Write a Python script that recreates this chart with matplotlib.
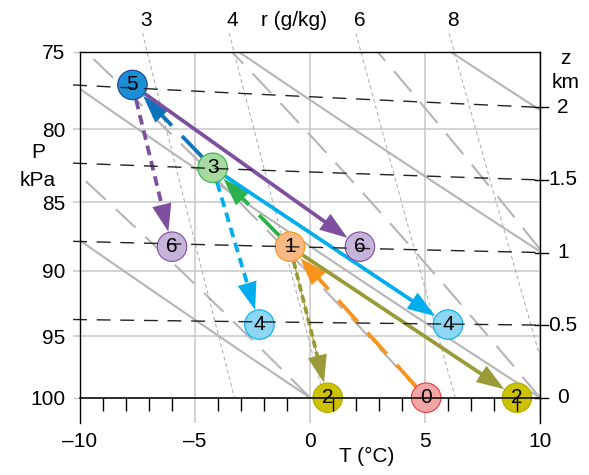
import numpy as np
import matplotlib
matplotlib.use("Agg")
import matplotlib.pyplot as plt
from matplotlib.patches import FancyArrowPatch
from matplotlib.transforms import blended_transform_factory
from matplotlib.ticker import NullLocator

plt.rcParams['font.family'] = ['Liberation Sans', 'DejaVu Sans']

# ---------------- data ----------------
x_ticks = [-10, -5, 0, 5, 10]
y_ticks = [75, 80, 85, 90, 95, 100]
theta_dry_C = [0, 10, 20, 30]          # dry adiabats (potential temperature, degC)
theta_w_C = [0, 5, 10, 15]             # moist adiabats (T at 100 kPa, degC)
mix_r = [3, 4, 6, 8]                   # saturation mixing ratio lines, g/kg
mix_labels = ['3', '4', '6', '8']
z_km = [0, 0.5, 1, 1.5, 2]             # height lines
z_labels = ['0', '0.5', '1', '1.5', '2']

pt_labels = ['0', '1', '2', '2', '3', '4', '4', '5', '6', '6']
pt_T = [5.05, -0.87, 0.77, 9.0, -4.23, -2.2, 6.0, -7.72, -6.0, 2.17]
pt_P = [100.0, 88.2, 100.0, 100.0, 82.6, 94.1, 94.1, 77.1, 88.2, 88.2]
pt_face = ['#f4a5a5', '#f9b984', '#ccc200', '#ccc200', '#a7d9a1', '#8dd6f4',
           '#8dd6f4', '#1b8fd6', '#c6b4da', '#c6b4da']
pt_edge = ['#e63a3f', '#f7941d', '#b3aa00', '#b3aa00', '#2db34a', '#00aeef',
           '#00aeef', '#1d3f8f', '#7d4f9e', '#7d4f9e']

arr_from = [0, 1, 1, 1, 4, 4, 4, 7, 7]
arr_to = [1, 2, 3, 4, 5, 6, 7, 8, 9]
arr_color = ['#f7941d', '#9a9a38', '#9a9a38', '#2bb24c', '#00aeef', '#00aeef',
             '#0d72ba', '#7d4f9e', '#7d4f9e']
arr_style = ['long', 'dot', 'solid', 'long', 'short', 'solid', 'long', 'short', 'solid']

# ---------------- constants ----------------
Rd, Cp, Lv, eps, g, K0 = 287.04, 1005.7, 2.501e6, 0.622, 9.81, 273.15
kappa = Rd / Cp


def es_kpa(Tc):
    return 0.6112 * np.exp(17.67 * Tc / (Tc + 243.5))


def dTdP(P, T):
    es = es_kpa(T - K0)
    rs = eps * es / (P - es)
    return (Rd * T + Lv * rs) / (P * (Cp + Lv ** 2 * rs * eps / (Rd * T ** 2)))


def moist_line(T0c, P):
    T = np.empty_like(P)
    T[0] = T0c + K0
    for i in range(len(P) - 1):
        h = P[i + 1] - P[i]
        p, t = P[i], T[i]
        k1 = dTdP(p, t)
        k2 = dTdP(p + h / 2, t + h / 2 * k1)
        k3 = dTdP(p + h / 2, t + h / 2 * k2)
        k4 = dTdP(p + h, t + h * k3)
        T[i + 1] = t + h / 6 * (k1 + 2 * k2 + 2 * k3 + k4)
    return T - K0


def dew_T(r, P):
    e = (r / 1000.0) * P / (eps + r / 1000.0)
    a = np.log(e / 0.6112)
    return 243.5 * a / (17.67 - a)


def z_pressure(z, Tc):
    return 100.0 * np.exp(-g * z * 1000.0 / (Rd * (np.asarray(Tc) + K0)))


# ---------------- figure ----------------
W, H = 589, 475
fig = plt.figure(figsize=(W / 100, H / 100), dpi=100)
ax = fig.add_axes([80 / W, 52.3 / H, 460 / W, 371 / H])
ax.set_yscale('log')
ax.set_xlim(-10, 10)
ax.set_ylim(102.1, 75)

FS = 15
GRID = '#c8c8c8'
LINE = '#b5b5b5'

ax.set_xticks(x_ticks)
ax.set_xticklabels([f"{v}".replace('-', '\u2013') for v in x_ticks], fontsize=FS)
ax.set_yticks(y_ticks)
ax.set_yticklabels([str(v) for v in y_ticks], fontsize=FS)
ax.yaxis.set_minor_locator(NullLocator())
ax.xaxis.set_minor_locator(NullLocator())
ax.tick_params(axis='x', length=0, pad=7)
ax.tick_params(axis='y', length=5.2, width=1.1, color=GRID, pad=5.5)
for t, v in zip(ax.yaxis.get_major_ticks(), y_ticks):
    if v in (75, 100):
        t.tick1line.set_color('black')
        t.tick1line.set_markeredgewidth(1.0)
ax.grid(True, color=GRID, lw=1.1, zorder=0)
ax.set_axisbelow(True)
ax.spines['bottom'].set_visible(False)
for s in ('left', 'right', 'top'):
    ax.spines[s].set_linewidth(1.0)
    ax.spines[s].set_zorder(6)

# dry adiabats
P_line = np.linspace(75, 100, 200)
for th in theta_dry_C:
    T = (th + K0) * (P_line / 100.0) ** kappa - K0
    ax.plot(T, P_line, color=LINE, lw=1.5, zorder=1, solid_capstyle='butt')

# moist adiabats
P_m = np.linspace(100, 75, 501)
for tw in theta_w_C:
    T = moist_line(tw, P_m)
    ax.plot(T, P_m, color=LINE, lw=1.5, zorder=1, dashes=(13, 6.5))

# mixing ratio lines
P_r = np.linspace(73.85, 100, 200)
xy_tr = blended_transform_factory(ax.transData, fig.transFigure)
for r, lab in zip(mix_r, mix_labels):
    T = dew_T(r, P_r)
    m = T <= 10
    ax.plot(T[m], P_r[m], color='#aaaaaa', lw=0.7, dashes=(4, 3), zorder=1,
            clip_on=False)
    ax.text(T[0] + 0.15, 1 - 20 / H, lab, transform=xy_tr, ha='center',
            va='center', fontsize=FS)

# height lines
T_h = np.linspace(-10.3, 10, 100)
yz_tr = blended_transform_factory(ax.transAxes, ax.transData)
for z, lab in zip(z_km, z_labels):
    Pz = z_pressure(z, T_h)
    if z == 0:
        ax.plot([-10, 10], [100, 100], color='black', lw=1.1, zorder=5,
                clip_on=False)
    else:
        ax.plot(T_h, Pz, color='#222222', lw=1.0, dashes=(10, 7), zorder=5,
                clip_on=False)
    pr = z_pressure(z, 10.0)
    ax.plot([0.9891, 1.0174], [pr, pr], color='black', lw=1.0,
            transform=yz_tr, clip_on=False, zorder=6)
    ax.text(1.05, pr, lab, transform=yz_tr, ha='center', va='center',
            fontsize=FS)

# small ticks hanging from the 100 kPa line
minor_T = [v for v in range(-9, 10) if v % 5 != 0]
ax.vlines(minor_T, 100, 101.1, color='black', lw=1.0, zorder=5)

# arrows: dashed/solid body + solid filled head
dash_map = {'long': (0, (7.7, 3.9)), 'short': (0, (2.6, 1.6)),
            'dot': (0, (2.0, 1.1)), 'solid': '-'}
R_PT = 11.0
HEAD_L, HEAD_W = 20, 7
for i, j, c, st in zip(arr_from, arr_to, arr_color, arr_style):
    p0 = (pt_T[i], pt_P[i])
    p1 = (pt_T[j], pt_P[j])
    if st == 'dot':
        ax.add_patch(FancyArrowPatch(p0, p1, arrowstyle='-', mutation_scale=1,
                                     color=c, lw=0.8, shrinkA=R_PT,
                                     shrinkB=R_PT + 10, zorder=3))
    ax.add_patch(FancyArrowPatch(p0, p1, arrowstyle='-', mutation_scale=1,
                                 color=c, lw=2.7, linestyle=dash_map[st],
                                 shrinkA=R_PT, shrinkB=R_PT + HEAD_L - 4,
                                 zorder=3, capstyle='butt'))
    ax.add_patch(FancyArrowPatch(p0, p1,
                                 arrowstyle=f'-|>,head_length={HEAD_L},head_width={HEAD_W}',
                                 mutation_scale=1, color=c, lw=0,
                                 shrinkA=R_PT, shrinkB=R_PT, zorder=3))

# points
ax.scatter(pt_T, pt_P, s=450, c=pt_face, edgecolors=pt_edge, linewidths=0.8,
           zorder=4)
for lab, t, p in zip(pt_labels, pt_T, pt_P):
    ax.text(t, p, lab, ha='center', va='center', fontsize=FS, zorder=7)

# axis titles
fig.text(38 / W, 1 - 153 / H, 'P', ha='center', va='center', fontsize=FS)
fig.text(38 / W, 1 - 181 / H, 'kPa', ha='center', va='center', fontsize=FS)
fig.text(565 / W, 1 - 58 / H, 'z', ha='center', va='center', fontsize=FS)
fig.text(566 / W, 1 - 83 / H, 'km', ha='center', va='center', fontsize=FS)
fig.text(367 / W, 1 - 456.5 / H, 'T (°C)', ha='center', va='center', fontsize=FS)
fig.text(294 / W, 1 - 20 / H, 'r (g/kg)', ha='center', va='center', fontsize=FS)

fig.savefig('out.png', dpi=100)
